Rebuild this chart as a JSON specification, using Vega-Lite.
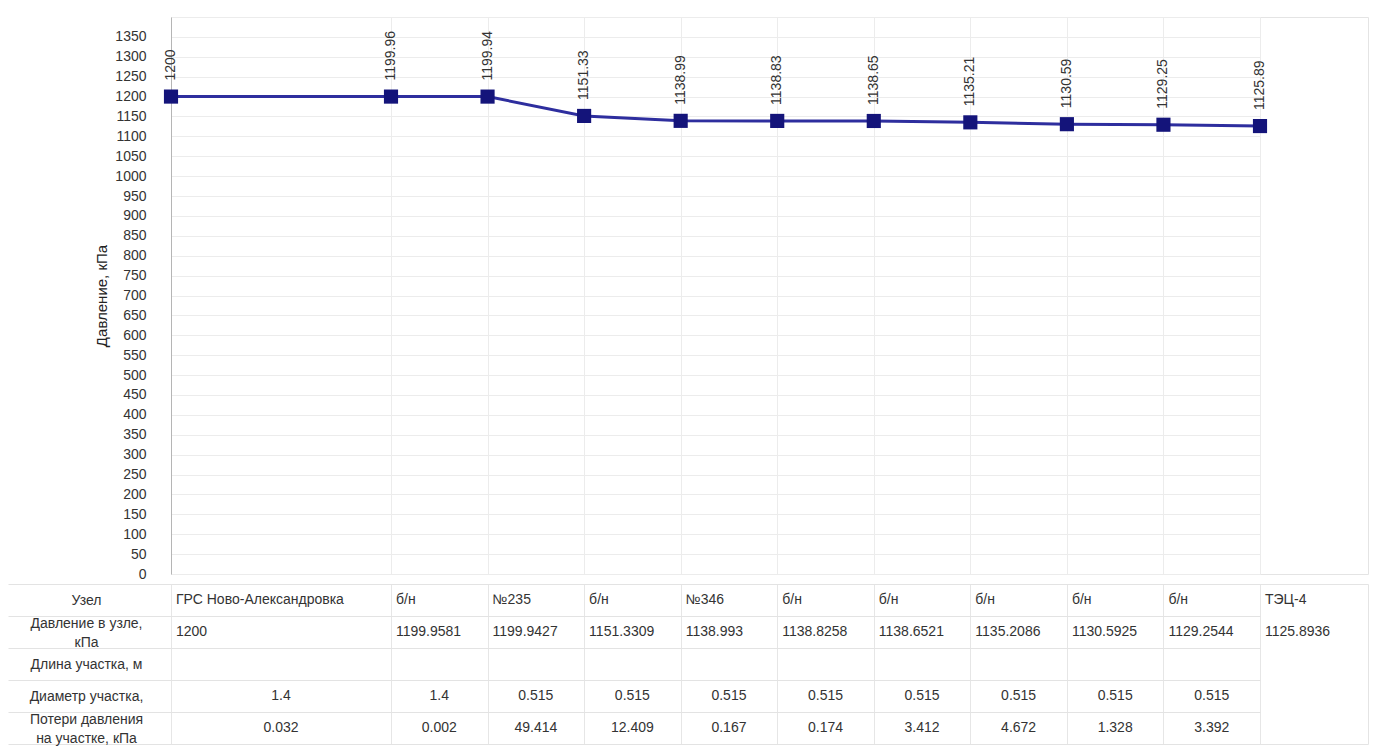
{
  "$schema": "https://vega.github.io/schema/vega-lite/v6.json",
  "padding": {"left": 7, "top": 16, "right": 7, "bottom": 0},
  "background": "white",
  "spacing": 10,
  "bounds": "flush",
  "config": {
    "font": "Liberation Sans",
    "view": {"stroke": "#e4e4e4"},
    "text": {"font": "Liberation Sans", "fontSize": 14, "color": "#333333"}
  },
  "datasets": {
    "nodes": [
      {"idx": 1, "node": "ГРС Ново-Александровка", "p": 1200},
      {"idx": 2, "node": "б/н", "p": 1199.9581},
      {"idx": 3, "node": "№235", "p": 1199.9427},
      {"idx": 4, "node": "б/н", "p": 1151.3309},
      {"idx": 5, "node": "№346", "p": 1138.993},
      {"idx": 6, "node": "б/н", "p": 1138.8258},
      {"idx": 7, "node": "б/н", "p": 1138.6521},
      {"idx": 8, "node": "б/н", "p": 1135.2086},
      {"idx": 9, "node": "б/н", "p": 1130.5925},
      {"idx": 10, "node": "б/н", "p": 1129.2544},
      {"idx": 11, "node": "ТЭЦ-4", "p": 1125.8936}
    ],
    "segs": [
      {"from": 1, "d": "1.4", "loss": "0.032"},
      {"from": 2, "d": "1.4", "loss": "0.002"},
      {"from": 3, "d": "0.515", "loss": "49.414"},
      {"from": 4, "d": "0.515", "loss": "12.409"},
      {"from": 5, "d": "0.515", "loss": "0.167"},
      {"from": 6, "d": "0.515", "loss": "0.174"},
      {"from": 7, "d": "0.515", "loss": "3.412"},
      {"from": 8, "d": "0.515", "loss": "4.672"},
      {"from": 9, "d": "0.515", "loss": "1.328"},
      {"from": 10, "d": "0.515", "loss": "3.392"}
    ]
  },
  "vconcat": [
    {
      "width": 1197,
      "height": 557,
      "data": {"name": "nodes"},
      "encoding": {
        "x": {
          "field": "idx", "type": "quantitative",
          "scale": {"domain": [1, 2, 11], "range": [0, 220, 1089], "nice": false, "zero": false},
          "axis": {"values": [1,2,3,4,5,6,7,8,9,10,11], "labels": false, "ticks": false, "domain": false, "grid": true, "gridColor": "#ececec", "title": null, "minExtent": 0, "maxExtent": 0, "labelPadding": 0}
        },
        "y": {
          "field": "p", "type": "quantitative",
          "scale": {"domain": [0, 1400], "nice": false},
          "axis": {
            "title": "Давление, кПа",
            "values": [0,50,100,150,200,250,300,350,400,450,500,550,600,650,700,750,800,850,900,950,1000,1050,1100,1150,1200,1250,1300,1350,1400],
            "labelExpr": "datum.value == 1400 ? '' : datum.label",
            "format": "d",
            "grid": true, "gridColor": "#ececec",
            "ticks": false, "domainColor": "#b5b5b5",
            "labelPadding": 25, "labelFontSize": 14, "labelColor": "#333333",
            "labelFont": "Liberation Sans",
            "titleFont": "Liberation Sans", "titleFontSize": 15, "titleFontWeight": "normal", "titleColor": "#222222", "titlePadding": 5
          }
        }
      },
      "layer": [
        {"mark": {"type": "line", "color": "#2e2e9e", "strokeWidth": 3}},
        {"mark": {"type": "point", "shape": "square", "filled": true, "size": 200, "color": "#14147a", "opacity": 1}},
        {
          "mark": {"type": "text", "angle": 270, "align": "left", "baseline": "middle", "dx": 16, "fontSize": 14, "color": "#333333"},
          "encoding": {"text": {"field": "p", "type": "quantitative", "format": ".2~f"}}
        }
      ]
    },
    {
      "width": 1197,
      "height": 160,
      "encoding": {
        "x": {
          "field": "idx", "type": "quantitative",
          "scale": {"domain": [1, 2, 11], "range": [0, 220, 1089], "nice": false, "zero": false},
          "axis": {"values": [1,2,3,4,5,6,7,8,9,10,11], "labels": false, "ticks": false, "domain": false, "grid": true, "gridColor": "#e6e6e6", "title": null, "minExtent": 0, "maxExtent": 0, "labelPadding": 0}
        }
      },
      "layer": [
        {
          "data": {"name": "nodes"},
          "mark": {"type": "text", "align": "left", "baseline": "middle", "dx": 5},
          "encoding": {
            "y": {
              "datum": "Узел", "type": "nominal",
              "scale": {"type": "band", "domain": ["Узел", "Давление в узле,|кПа", "Длина участка, м", "Диаметр участка,", "Потери давления|на участке, кПа"], "paddingInner": 0, "paddingOuter": 0},
              "axis": {
                "title": null, "tickBand": "extent", "tickSize": 163, "tickColor": "#e3e3e3",
                "labelPadding": -78, "labelAlign": "center", "labelBaseline": "middle",
                "labelExpr": "datum.value ? split(datum.value, '|') : ''",
                "labelOffset": {"condition": {"test": "datum.value && indexof(datum.value, '|') >= 0", "value": -9}, "value": 0},
                "labelLineHeight": 19,
                "labelFontSize": 14, "labelColor": "#333333", "labelFont": "Liberation Sans", "labelLimit": 200,
                "grid": true, "gridColor": "#e3e3e3", "domain": false
              }
            },
            "text": {"field": "node", "type": "nominal"}
          }
        },
        {
          "data": {"name": "nodes"},
          "mark": {"type": "text", "align": "left", "baseline": "middle", "dx": 5},
          "encoding": {
            "y": {"datum": "Давление в узле,|кПа", "type": "nominal"},
            "text": {"field": "p", "type": "nominal"}
          }
        },
        {
          "data": {"name": "segs"},
          "transform": [{"calculate": "datum.from + 0.5", "as": "mid"}],
          "mark": {"type": "text", "align": "center", "baseline": "middle"},
          "encoding": {
            "x": {"field": "mid", "type": "quantitative"},
            "y": {"datum": "Диаметр участка,", "type": "nominal"},
            "text": {"field": "d", "type": "nominal"}
          }
        },
        {
          "data": {"name": "segs"},
          "transform": [{"calculate": "datum.from + 0.5", "as": "mid"}],
          "mark": {"type": "text", "align": "center", "baseline": "middle"},
          "encoding": {
            "x": {"field": "mid", "type": "quantitative"},
            "y": {"datum": "Потери давления|на участке, кПа", "type": "nominal"},
            "text": {"field": "loss", "type": "nominal"}
          }
        }
      ]
    }
  ]
}
